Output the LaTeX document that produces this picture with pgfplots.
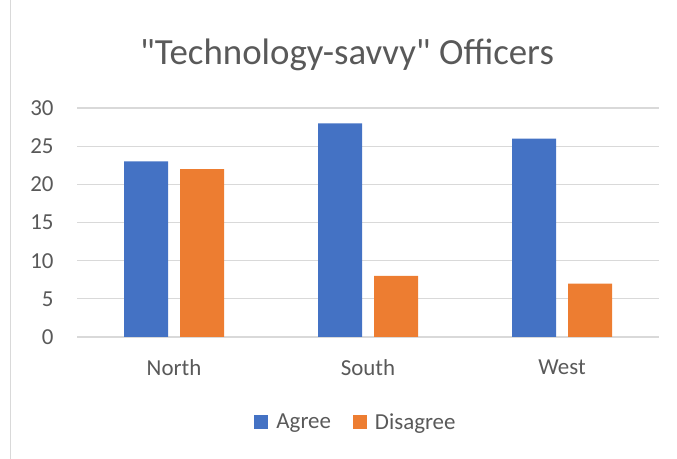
\documentclass[border=0pt]{standalone}
\usepackage{pgfplots}
\pgfplotsset{compat=1.18}
\usepackage{fontspec}
\setmainfont{Carlito}
\newfontfamily\plainfont{Carlito}
\definecolor{cblue}{HTML}{4472C4}
\definecolor{corange}{HTML}{ED7D31}
\definecolor{cgrid}{HTML}{D9D9D9}
\definecolor{ctext}{HTML}{595959}
\begin{document}
\begin{tikzpicture}[x=1bp,y=1bp]
\path[use as bounding box] (0,0) rectangle (677,459);
\draw[cgrid, line width=1.5bp] (10.5,0) -- (10.5,459);
\node[text=ctext, font=\plainfont\fontsize{37}{42}\selectfont] at (347,404) {"Technology-savvy" Officers};
\begin{axis}[
  at={(77bp,122bp)}, anchor=south west,
  scale only axis, width=582bp, height=229bp,
  xmin=-0.5, xmax=2.5, ymin=0, ymax=30,
  ybar=12bp, bar width=44bp,
  xtick=data, xticklabels={North,South,West},
  ytick={0,5,...,30},
  axis line style={draw=none},
  major tick length=0pt,
  ymajorgrids, grid style={cgrid, line width=1.2bp},
  tick label style={text=ctext, font=\fontsize{23}{26}\selectfont},
  /pgf/number format/assume math mode=true,
  yticklabel style={xshift=-20bp},
  xticklabel style={yshift=-19bp},
  legend style={at={(0.5,-0.371)}, xshift=-12bp, anchor=center, draw=none, fill=none,
    legend columns=2, font=\fontsize{23}{26}\selectfont, text=ctext,
    /tikz/every odd column/.append style={column sep=6bp},
    /tikz/every even column/.append style={column sep=20bp}},
  legend image code/.code={\fill[#1] (0bp,-7bp) rectangle (14bp,7bp);},
  legend cell align=left,
  clip=false,
]
\addplot[fill=cblue, draw=none] coordinates {(0,23) (1,28) (2,26)};
\addplot[fill=corange, draw=none] coordinates {(0,22) (1,8) (2,7)};
\legend{Agree,Disagree}
\end{axis}
\end{tikzpicture}
\end{document}
